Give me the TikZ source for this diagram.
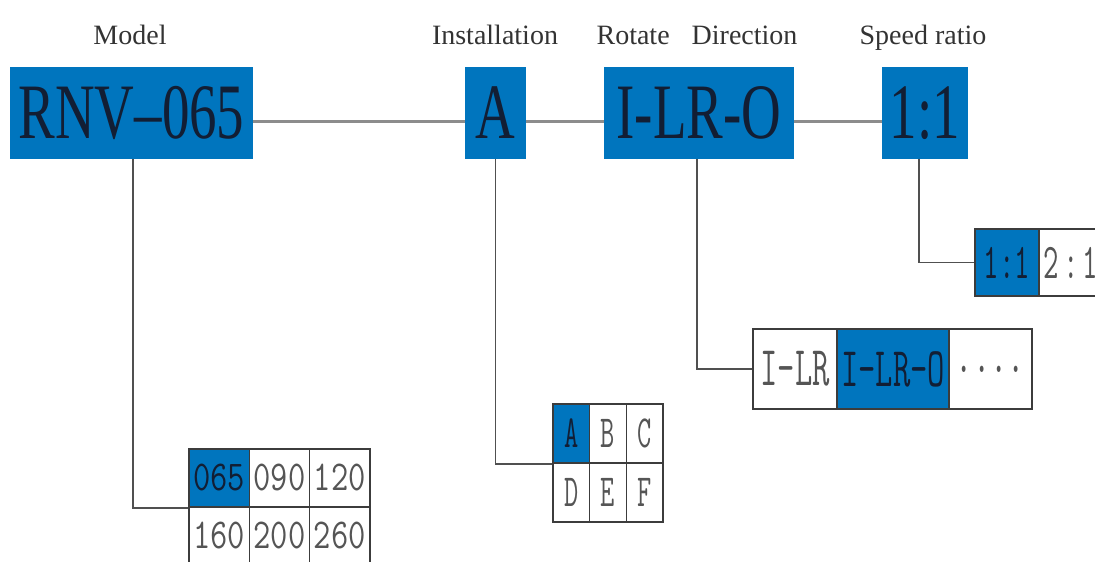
\documentclass[tikz,border=0pt]{standalone}
\usepackage{fontspec}
\setmainfont{Liberation Serif}
\newfontfamily\boxfont[FakeStretch=0.7]{Liberation Serif}
\newfontfamily\cellfont[FakeStretch=0.6]{Latin Modern Mono}
\newfontfamily\widecellfont[FakeStretch=0.79]{Latin Modern Mono}

\definecolor{codeblue}{RGB}{0,117,190}
\definecolor{codeink}{RGB}{18,30,52}
\definecolor{mainline}{RGB}{140,140,140}
\definecolor{linkline}{RGB}{80,80,80}
\definecolor{gridline}{RGB}{60,60,60}
\definecolor{celltext}{RGB}{85,85,85}

\tikzset{
  title/.style={anchor=base, text=black!80, font=\fontsize{28}{30}\selectfont},
  code/.style={fill=codeblue, text=codeink, inner sep=0pt, minimum height=92pt,
    font=\boxfont\fontsize{78.5}{80}\selectfont},
  cell/.style={draw=gridline, line width=1.6pt, inner sep=0pt, text=celltext},
  chosen/.style={cell, fill=codeblue, text=codeink},
  link/.style={draw=linkline, line width=1.6pt}
}

\begin{document}
\begin{tikzpicture}[x=1pt, y=-1pt]
  \useasboundingbox (0,0) rectangle (1095,562);

  % Headings
  \node[title] (tModel) at (130,44) {Model};
  \node[title] (tInst) at (495,44) {Installation};
  \node[title] (tRot) at (697,44) {Rotate\hspace{22pt}Direction};
  \node[title] (tRatio) at (923,44) {Speed ratio};

  % Code boxes
  \node[code, minimum width=243pt] (model) at (131.5,113) {RNV\textendash065};
  \node[code, minimum width=61pt] (inst) at (495.5,113) {A};
  \node[code, minimum width=190pt] (rot) at (699,113) {I-LR-O};
  \node[code, minimum width=86pt] (ratio) at (925,113) {1:1};

  % Line through the code
  \draw[mainline, line width=3pt] ([yshift=-8pt]model.east) -- ([yshift=-8pt]inst.west);
  \draw[mainline, line width=3pt] ([yshift=-8pt]inst.east) -- ([yshift=-8pt]rot.west);
  \draw[mainline, line width=3pt] ([yshift=-8pt]rot.east) -- ([yshift=-8pt]ratio.west);

  % Model table
  \begin{scope}[every node/.append style={minimum width=60.3pt, minimum height=58pt,
      font=\widecellfont\fontsize{42.5}{44}\selectfont}]
    \node[chosen] (m1) at (219.2,478) {065};
    \node[cell] (m2) at (279.5,478) {090};
    \node[cell] (m3) at (339.8,478) {120};
    \node[cell] (m4) at (219.2,536) {160};
    \node[cell] (m5) at (279.5,536) {200};
    \node[cell] (m6) at (339.8,536) {260};
  \end{scope}

  % Installation table
  \begin{scope}[every node/.append style={minimum width=36.7pt, minimum height=59pt,
      font=\cellfont\fontsize{46}{47}\selectfont}]
    \node[chosen] (i1) at (571.3,433.5) {A};
    \node[cell] (i2) at (608,433.5) {B};
    \node[cell] (i3) at (644.7,433.5) {C};
    \node[cell] (i4) at (571.3,492.5) {D};
    \node[cell] (i5) at (608,492.5) {E};
    \node[cell] (i6) at (644.7,492.5) {F};
  \end{scope}

  % Direction table
  \begin{scope}[every node/.append style={minimum height=80pt,
      font=\cellfont\fontsize{56}{57}\selectfont}]
    \node[cell, minimum width=84pt] (d1) at (795,369) {I-LR};
    \node[chosen, minimum width=112pt] (d2) at (893,369) {I-LR-O};
    \node[cell, minimum width=83pt] (d3) at (990.5,369) {....};
  \end{scope}

  % Ratio table
  \begin{scope}[every node/.append style={minimum width=64pt, minimum height=67pt,
      font=\cellfont\fontsize{50}{51}\selectfont}]
    \node[chosen] (r1) at (1007,262.5) {1:1};
    \node[cell] (r2) at (1071,262.5) {2\kern4pt:\kern4pt1};
  \end{scope}

  % Links to the tables
  \draw[link] ([xshift=1.5pt]model.south) |- (m1.south west);
  \draw[link] (inst.south) |- (i1.south west);
  \draw[link] ([xshift=-2pt]rot.south) |- (d1.west);
  \draw[link] ([xshift=-6pt]ratio.south) |- (r1.west);
\end{tikzpicture}
\end{document}
